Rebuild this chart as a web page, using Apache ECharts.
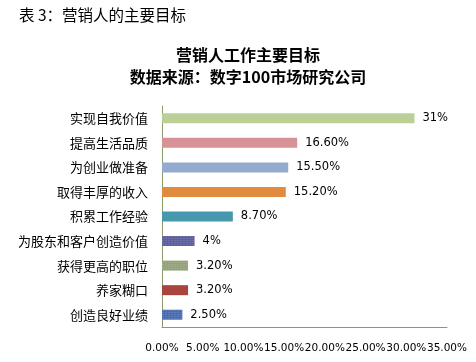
<!DOCTYPE html>
<html><head><meta charset="utf-8">
<script src="https://cdn.jsdelivr.net/npm/echarts@6/dist/echarts.min.js"></script>
<style>html,body{margin:0;padding:0;background:#fff}#c{width:476px;height:362px}</style>
</head><body><div id="c"></div>
<script>
const categories = ['实现自我价值','提高生活品质','为创业做准备','取得丰厚的收入','积累工作经验','为股东和客户创造价值','获得更高的职位','养家糊口','创造良好业绩'];
const values = [31, 16.6, 15.5, 15.2, 8.7, 4, 3.2, 3.2, 2.5];
const valueLabels = ['31%','16.60%','15.50%','15.20%','8.70%','4%','3.20%','3.20%','2.50%'];
const barColors = ['#bccf96','#d79297','#94abd0','#e08b3e','#4698ae','#5d5f9e','#95a27c','#a9453c','#4a6db0'];
const patterned = [false,false,false,false,false,true,true,false,true];
const tickMin = 0, tickMax = 35, tickStep = 5;

const font = '"Noto Sans CJK SC", "Noto Sans", sans-serif';
const chart = echarts.init(document.getElementById('c'), null, {renderer:'canvas'});
const data = values.map((v,i)=>{
  const d = {value: v, itemStyle: {color: barColors[i]}};
  if (patterned[i]) {
    d.itemStyle.decal = {symbol:'rect', symbolSize:0.6, color:'rgba(255,255,255,0.35)', dashArrayX:[2,1], dashArrayY:[1,1], rotation:0};
  }
  return d;
});
chart.setOption({
  animation:false,
  backgroundColor:'#fff',
  title:[
    {text:'表 3：营销人的主要目标', left:14, top:2, textStyle:{fontFamily:font, fontSize:15.5, fontWeight:'normal', color:'#000'}},
    {text:'营销人工作主要目标\n数据来源：数字100市场研究公司', left:243, top:39, textAlign:'center',
     textStyle:{fontFamily:font, fontSize:16, fontWeight:'bold', color:'#000', lineHeight:22}}
  ],
  grid:{left:162, right:29, top:106, bottom:35},
  xAxis:{type:'value', min:tickMin, max:tickMax, interval:tickStep,
    axisLine:{show:true, lineStyle:{color:'#8a9a6a', width:1}},
    axisTick:{show:false}, splitLine:{show:false},
    axisLabel:{formatter:v=>v.toFixed(2)+'%', fontFamily:'"DejaVu Sans", sans-serif', fontSize:10.5, color:'#000', margin:16, showMinLabel:true, showMaxLabel:true, hideOverlap:false}
  },
  yAxis:{type:'category', inverse:true, data:categories,
    axisLine:{show:true, lineStyle:{color:'#8a9a6a', width:1}},
    axisTick:{show:false},
    axisLabel:{fontFamily:font, fontSize:13, color:'#000', margin:14}
  },
  series:[{type:'bar', data:data, barWidth:10,
    label:{show:true, position:'right', distance:8, formatter:p=>valueLabels[p.dataIndex], fontFamily:'"DejaVu Sans", sans-serif', fontSize:11.5, color:'#000'}
  }]
});
</script></body></html>
